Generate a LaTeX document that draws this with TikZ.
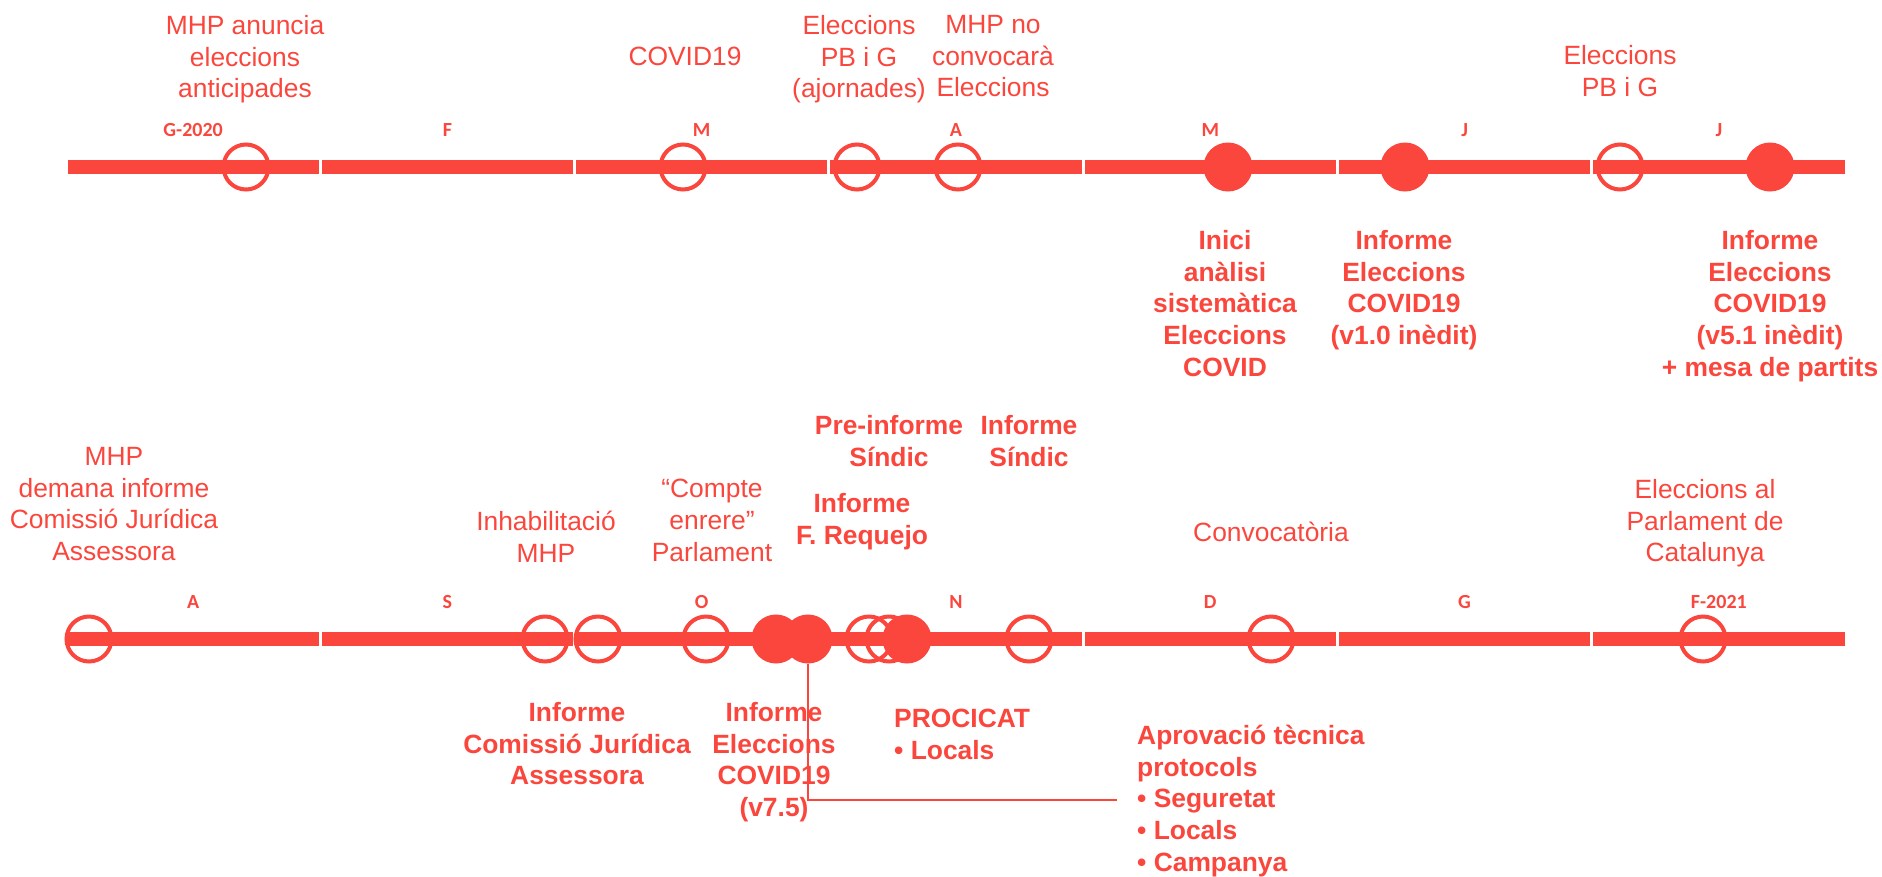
\documentclass[tikz,border=0pt]{standalone}
\usepackage{fontspec}
\setmainfont{Liberation Sans}
\newfontfamily\monthfont{Carlito}
\definecolor{tlred}{RGB}{250,70,60}

\begin{document}
\begin{tikzpicture}[x=1pt,y=-1pt,
	ring/.style={circle,draw=tlred,line width=4pt,minimum size=45pt,inner sep=0pt},
	dot/.style={circle,fill=tlred,minimum size=49pt,inner sep=0pt},
	month/.style={anchor=base,text=tlred,font=\monthfont\bfseries\fontsize{20}{23}\selectfont},
	fact/.style={anchor=north,align=center,inner sep=0pt,text=tlred,font=\fontsize{26.4}{31.7}\selectfont},
	act/.style={fact,font=\bfseries\fontsize{26.4}{31.7}\selectfont},
	actl/.style={act,anchor=north west,align=left}]
	\useasboundingbox (0,0) rectangle (1882,876);
	% the two time bars, one segment per month
	\foreach \y in {167,639}
		\foreach \i in {0,...,6}
			\fill[tlred] ({67.5+254.29*\i},\y-7) rectangle ({318.8+254.29*\i},\y+7);
	\foreach \m [count=\i from 0] in {G-2020,F,M,A,M,J,J}
		\node[month] (mtop\i) at ({193.1+254.29*\i},136) {\m};
	\foreach \m [count=\i from 0] in {A,S,O,N,D,G,F-2021}
		\node[month] (mbot\i) at ({193.1+254.29*\i},608) {\m};

	% top row
	\node[ring] (anuncia) at (246,167) {};
	\node[ring] (covid) at (683,167) {};
	\node[ring] (ajorn) at (857,167) {};
	\node[ring] (noconv) at (958,167) {};
	\node[ring] (pbig) at (1620,167) {};
	\node[dot] (inici) at (1228,167) {};
	\node[dot] (v10) at (1405,167) {};
	\node[dot] (v51) at (1770,167) {};

	\node[fact] at (245,15) {MHP anuncia\\eleccions\\anticipades};
	\node[fact] at (685,47) {COVID19};
	\node[fact] at (859,15) {Eleccions\\PB i G\\(ajornades)};
	\node[fact] at (993,15) {MHP no\\convocarà\\Eleccions};
	\node[fact] at (1620,45) {Eleccions\\PB i G};
	\node[act] at (1225,230) {Inici\\anàlisi\\sistemàtica\\Eleccions\\COVID};
	\node[act] at (1404,230) {Informe\\Eleccions\\COVID19\\(v1.0 inèdit)};
	\node[act] at (1770,230) {Informe\\Eleccions\\COVID19\\(v5.1 inèdit)\\+ mesa de partits};

	% bottom row
	\node[ring] (demana) at (89,639) {};
	\node[ring] (inhab) at (545,639) {};
	\node[ring] (cja) at (598,639) {};
	\node[ring] (compte) at (706,639) {};
	\node[ring] (preind) at (869,639) {};
	\node[ring] (requejo) at (889,639) {};
	\node[ring] (sindic) at (1029,639) {};
	\node[ring] (convoc) at (1271,639) {};
	\node[ring] (parlam) at (1703,639) {};
	\node[dot] (v75a) at (776,639) {};
	\node[dot] (v75) at (808,639) {};
	\node[dot] (procicat) at (907,639) {};

	\node[fact] at (114,447) {MHP\\demana informe\\Comissió Jurídica\\Assessora};
	\node[fact] at (546,511) {Inhabilitació\\MHP};
	\node[fact] at (712,479) {“Compte\\enrere”\\Parlament};
	\node[act] at (889,415) {Pre-informe\\Síndic};
	\node[act] at (1029,415) {Informe\\Síndic};
	\node[act] at (862,493) {Informe\\F. Requejo};
	\node[fact] at (1271,522) {Convocatòria};
	\node[fact] at (1705,479) {Eleccions al\\Parlament de\\Catalunya};
	\node[act] at (577,702) {Informe\\Comissió Jurídica\\Assessora};
	\node[act] at (774,702) {Informe\\Eleccions\\COVID19\\(v7.5)};
	\node[actl] at (894,709) {PROCICAT\\• Locals};
	\node[actl] (protocols) at (1137,725) {Aprovació tècnica\\protocols\\• Seguretat\\• Locals\\• Campanya};

	\coordinate (aprov) at (1117,800);
	\draw[tlred,line width=1.2pt] (v75) |- (aprov);
\end{tikzpicture}
\end{document}
